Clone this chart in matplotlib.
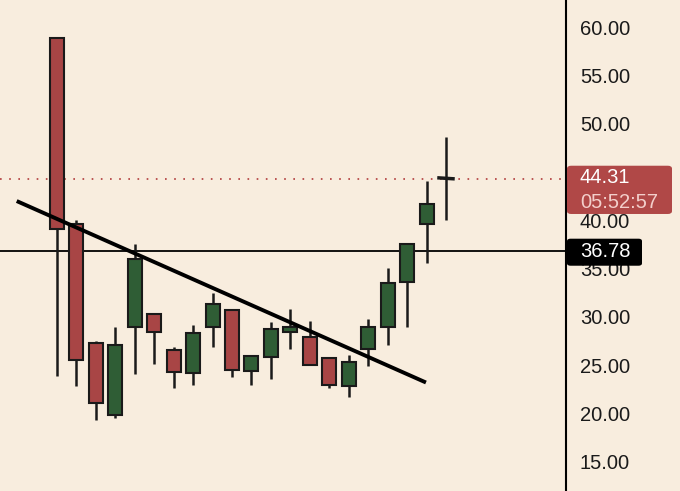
# coding=utf-8
# Candlestick chart with a falling trendline and a breakout level

import matplotlib
matplotlib.use("Agg")
import matplotlib.pyplot as plt
from matplotlib.patches import Rectangle, FancyBboxPatch

# OHLC data
opens = [58.9, 39.6, 27.3, 19.8, 29.0, 30.25, 26.6, 24.2, 29.0, 30.7, 24.4,
         25.8, 28.4, 27.9, 25.7, 22.8, 26.7, 29.0, 33.6, 39.6, 44.4]
highs = [59.0, 40.0, 27.5, 29.0, 37.5, 30.4, 26.9, 29.2, 32.5, 30.7, 26.0,
         29.5, 30.8, 29.6, 25.7, 26.0, 29.8, 35.1, 37.6, 44.1, 48.6]
lows = [23.9, 22.8, 19.3, 19.5, 24.1, 25.1, 22.6, 22.9, 26.9, 23.8, 22.9,
        23.6, 26.7, 25.0, 22.6, 21.7, 24.9, 27.1, 29.0, 35.6, 40.0]
closes = [39.1, 25.5, 21.1, 27.1, 36.0, 28.4, 24.3, 28.3, 31.3, 24.5, 25.9,
          28.7, 29.0, 25.0, 22.9, 25.3, 28.95, 33.5, 37.5, 41.7, 44.31]

trend_x = [-2.07, 18.97]
trend_y = [42.0, 23.2]

level = 36.78
last_price = 44.31
countdown = "05:52:57"
yticks = [15, 20, 25, 30, 35, 40, 45, 50, 55, 60]

BG = "#F8EDDE"
RED = "#A84545"
GREEN = "#2F5D35"
LABEL_RED = "#B04847"
FS = 14.5

plt.rcParams["font.family"] = ["Liberation Sans", "DejaVu Sans"]

W, H = 680, 491
fig = plt.figure(figsize=(W / 100, H / 100), dpi=100, facecolor=BG)
ax_w = 566 / W
ax = fig.add_axes([0, 0, ax_w, 1])
ax.set_facecolor(BG)

body_w = 0.72
for i in range(len(opens)):
    o, h, l, c = opens[i], highs[i], lows[i], closes[i]
    ax.plot([i, i], [l, h], color="#1a1a1a", lw=1.8, zorder=2,
            solid_capstyle="butt")
    if i == len(opens) - 1:
        # current candle, almost flat body
        ax.plot([i - body_w / 2, i + body_w / 2], [o, c], color="#1a1a1a",
                lw=2.5, zorder=3)
        continue
    col = GREEN if c >= o else RED
    ax.add_patch(Rectangle((i - body_w / 2, min(o, c)), body_w, abs(c - o),
                           facecolor=col, edgecolor="#1a1a1a", lw=1.5,
                           zorder=3))

# Trendline
ax.plot(trend_x, trend_y, color="black", lw=2.8, zorder=4,
        solid_capstyle="butt")

# Horizontal level and last-price dotted line
ax.axhline(level, color="black", lw=1.3, zorder=1)
ax.axhline(last_price, color="#B03A3A", lw=1.2, ls=(0, (1, 4.5)), zorder=1)

ax.set_xlim(-2.93, 26.17)
ax.set_ylim(11.96, 62.83)

ax.yaxis.tick_right()
ax.set_yticks(yticks)
ax.set_yticklabels([f"{v:.2f}" for v in yticks])
ax.tick_params(axis="y", length=0, pad=10, labelsize=FS, labelcolor="#1a1a1a")
ax.set_xticks([])
for side in ["left", "top", "bottom"]:
    ax.spines[side].set_visible(False)
ax.spines["right"].set_color("black")
ax.spines["right"].set_linewidth(1.5)


# Price labels on the axis
def ypix(price):
    return ax.transData.transform((0, price))[1] / H


x0 = 567 / W
red_top, red_bot = ypix(45.66), ypix(40.66)
fig.patches.append(FancyBboxPatch((x0, red_bot), 105 / W, red_top - red_bot,
                                  boxstyle="round,pad=0,rounding_size=0.006",
                                  facecolor=LABEL_RED, edgecolor="none",
                                  transform=fig.transFigure, figure=fig))
fig.text(580 / W, ypix(44.4), f"{last_price:.2f}", color="white",
         fontsize=FS, va="center", ha="left")
fig.text(580 / W, ypix(41.85), countdown, color="#F3CFCB",
         fontsize=FS, va="center", ha="left")

blk_top, blk_bot = ypix(38.1), ypix(35.3)
fig.patches.append(FancyBboxPatch((x0, blk_bot), 75 / W, blk_top - blk_bot,
                                  boxstyle="round,pad=0,rounding_size=0.005",
                                  facecolor="black", edgecolor="none",
                                  transform=fig.transFigure, figure=fig))
fig.text(580 / W, ypix(level), f"{level:.2f}", color="white",
         fontsize=FS, va="center", ha="left")

fig.savefig("out.png", dpi=100, facecolor=BG)
